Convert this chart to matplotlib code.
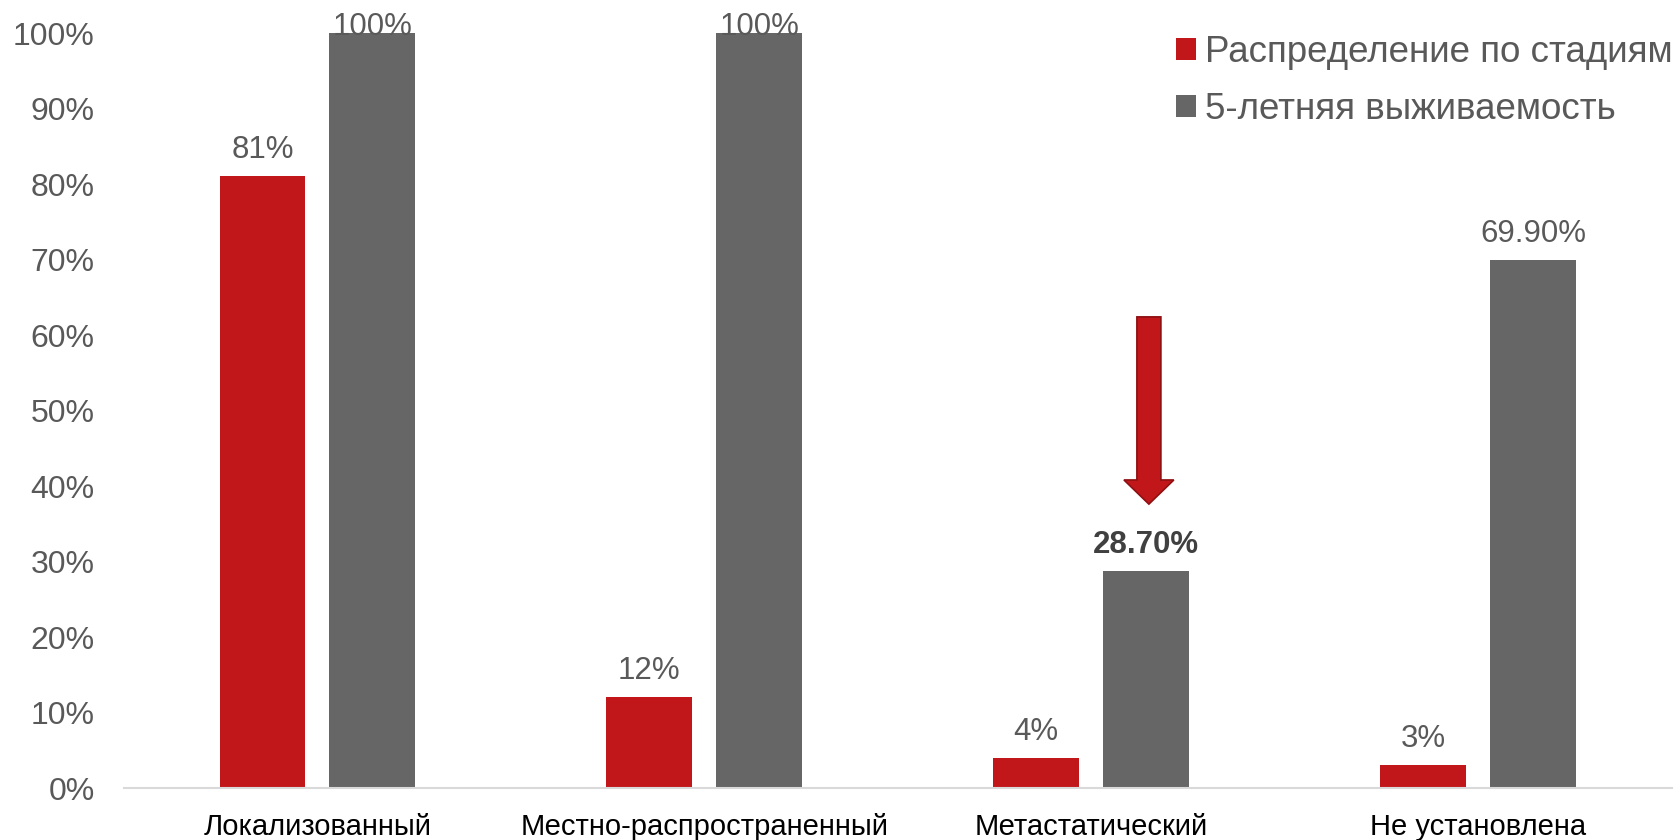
import numpy as np
import matplotlib.pyplot as plt
from matplotlib.patches import FancyArrow, Patch

plt.rcParams.update({'font.family': ['Liberation Sans', 'DejaVu Sans']})

categories = ['Локализованный', 'Местно-распространенный', 'Метастатический', 'Не установлена']
stage_share = [81, 12, 4, 3]
survival = [100, 100, 28.7, 69.9]
stage_labels = ['81%', '12%', '4%', '3%']
survival_labels = ['100%', '100%', '28.70%', '69.90%']
series_names = ['Распределение по стадиям', '5-летняя выживаемость']

red = '#C1171B'
gray = '#666666'
txt = '#595959'

fig = plt.figure(figsize=(16.8, 8.4), dpi=100)
ax = fig.add_axes([0.0738, 0.0619, 0.9212, 0.8988])

x = np.arange(len(categories))
w = 0.222
off = 0.142
ax.bar(x - off, stage_share, w, color=red)
ax.bar(x + off, survival, w, color=gray)

ax.set_xlim(-0.5, 3.5)
ax.set_ylim(0, 100)
ax.set_yticks(np.arange(0, 101, 10))
ax.set_yticklabels([f'{t}%' for t in range(0, 101, 10)])
ax.set_xticks(x)
ax.set_xticklabels(categories, fontsize=21, color='black')
ax.tick_params(axis='y', length=0, pad=21, labelsize=23, labelcolor=txt)
ax.tick_params(axis='x', length=0, pad=18)
for s in ['top', 'right', 'left']:
    ax.spines[s].set_visible(False)
ax.spines['bottom'].set_color('#D9D9D9')
ax.spines['bottom'].set_linewidth(1.5)

for xi, v, lab in zip(x - off, stage_share, stage_labels):
    ax.text(xi, min(v + 2.4, 99.7), lab, ha='center', va='baseline', fontsize=22.5, color=txt)
for xi, v, lab in zip(x + off, survival, survival_labels):
    bold = 'bold' if lab == '28.70%' else 'normal'
    ax.text(xi, min(v + 2.4, 99.7), lab, ha='center', va='baseline', fontsize=22.5,
            color='#404040' if bold == 'bold' else txt, fontweight=bold, clip_on=False)

# стрелка над метастатическим
arr = FancyArrow(2 + off + 0.007, 62.4, 0, -24.8, width=0.062, head_width=0.129,
                 head_length=3.2, length_includes_head=True,
                 facecolor=red, edgecolor='#8E1012', linewidth=1.2)
ax.add_patch(arr)

handles = [Patch(facecolor=red), Patch(facecolor=gray)]
leg = fig.legend(handles, series_names, loc='upper right', bbox_to_anchor=(1.009, 0.985),
                 frameon=False, fontsize=26.5, handlelength=0.55, handleheight=0.55,
                 handletextpad=0.25, labelspacing=0.6, borderaxespad=0.2)
for t in leg.get_texts():
    t.set_color(txt)

fig.savefig('out.png', dpi=100)
